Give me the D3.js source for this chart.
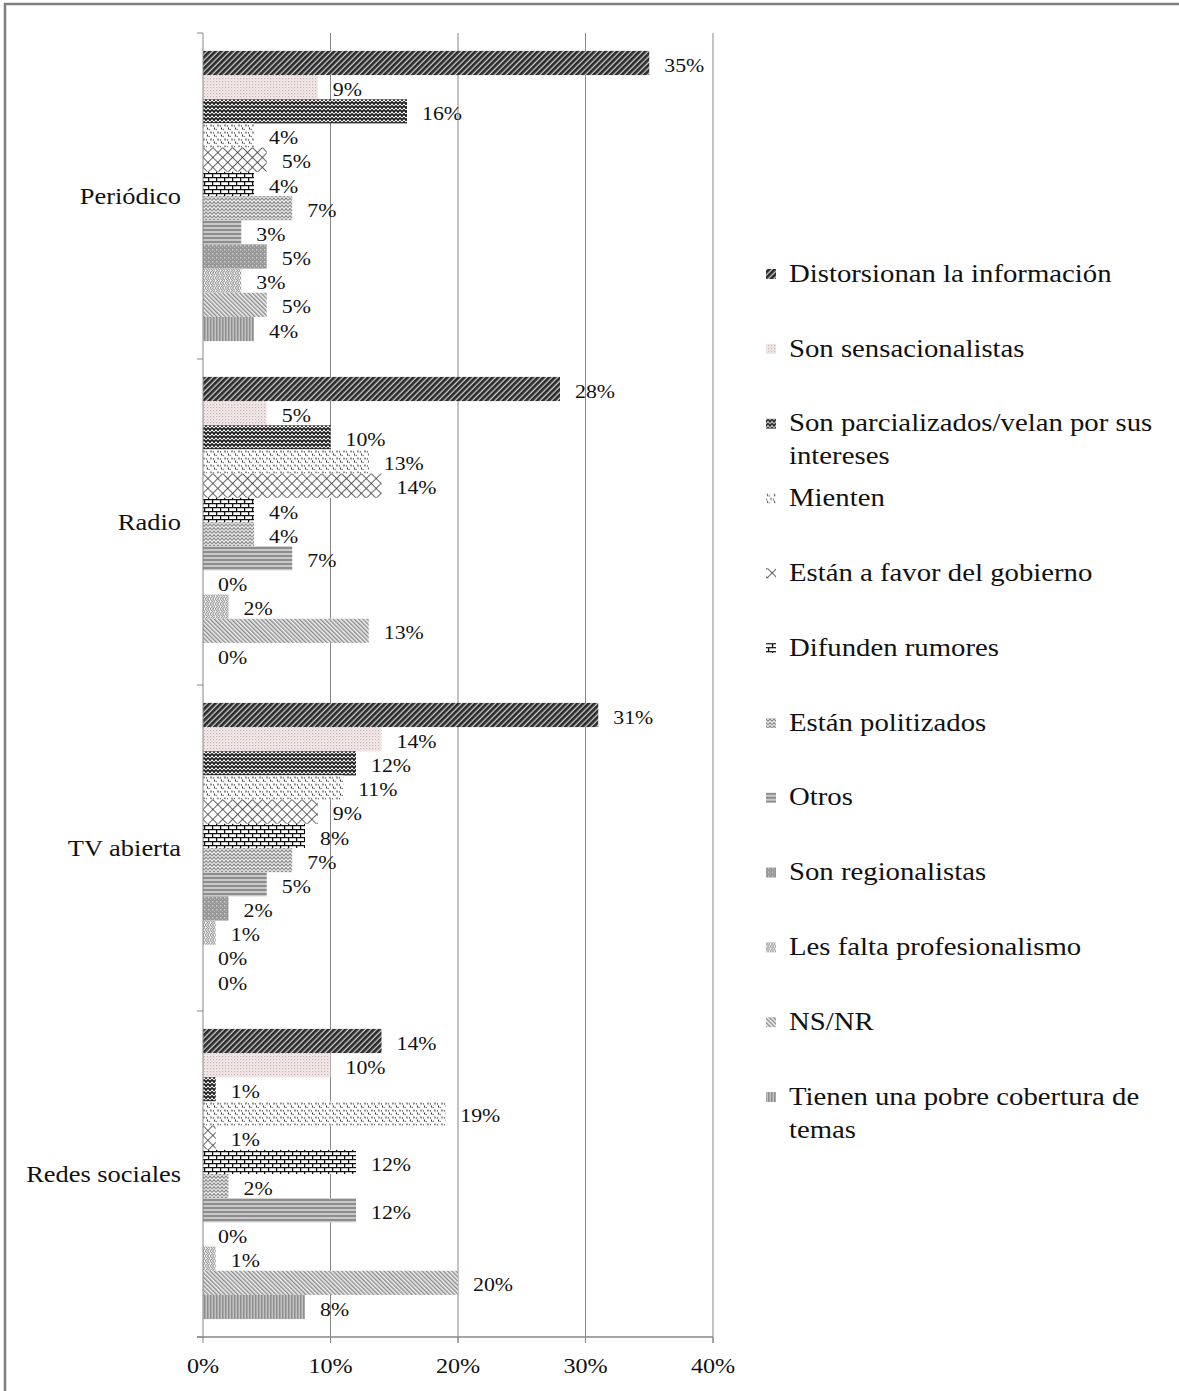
<!DOCTYPE html>
<html>
<head>
<meta charset="utf-8">
<script src="https://cdn.jsdelivr.net/npm/d3@7"></script>
<style>
  body { margin: 0; background: #fff; }
  text { font-family: "Liberation Serif", "Times New Roman", serif; fill: #111; }
</style>
</head>
<body>
<div id="chart"></div>
<script>
// data
const categories = ["Periódico", "Radio", "TV abierta", "Redes sociales"];
const series = [
  "Distorsionan la información",
  "Son sensacionalistas",
  "Son parcializados/velan por sus intereses",
  "Mienten",
  "Están a favor del gobierno",
  "Difunden rumores",
  "Están politizados",
  "Otros",
  "Son regionalistas",
  "Les falta profesionalismo",
  "NS/NR",
  "Tienen una pobre cobertura de temas"
];
const periodico = [35, 9, 16, 4, 5, 4, 7, 3, 5, 3, 5, 4];
const radio = [28, 5, 10, 13, 14, 4, 4, 7, 0, 2, 13, 0];
const tvAbierta = [31, 14, 12, 11, 9, 8, 7, 5, 2, 1, 0, 0];
const redesSociales = [14, 10, 1, 19, 1, 12, 2, 12, 0, 1, 20, 8];
const values = [periodico, radio, tvAbierta, redesSociales];
const xTicks = [0, 10, 20, 30, 40];

const W = 1179, H = 1391;
const SX = 1.15; // the source picture is stretched sideways

const svg = d3.select("#chart").append("svg")
  .attr("width", W).attr("height", H)
  .attr("viewBox", `0 0 ${W} ${H}`);

const defs = svg.append("defs");

// fill patterns, one per series (Excel-like hatches)
function pat(id, w, h, rot) {
  const p = defs.append("pattern").attr("id", id)
    .attr("patternUnits", "userSpaceOnUse")
    .attr("width", w).attr("height", h);
  if (rot) p.attr("patternTransform", `rotate(${rot})`);
  return p;
}
function bg(p, w, h, c) { p.append("rect").attr("width", w).attr("height", h).attr("fill", c); }

let p;
// 0 dark diagonal
p = pat("p0", 4, 4, 45); bg(p, 4, 4, "#cfcfcf");
p.append("rect").attr("width", 2.7).attr("height", 4).attr("fill", "#2a2a2a");
// 1 light pink stipple
p = pat("p1", 3, 3); bg(p, 3, 3, "#f8eaea");
p.append("rect").attr("x", 0).attr("y", 0).attr("width", 1.2).attr("height", 1.2).attr("fill", "#bdb5b5");
p.append("rect").attr("x", 1.5).attr("y", 1.5).attr("width", 1).attr("height", 1).attr("fill", "#d2caca");
// 2 dark zigzag weave
p = pat("p2", 4, 4); bg(p, 4, 4, "#fff");
p.append("path").attr("d", "M0,0.6 L2,3.2 L4,0.6").attr("fill", "none").attr("stroke", "#1e1e1e").attr("stroke-width", 1.8);
// 3 sparse marks
p = pat("p3", 7, 7); bg(p, 7, 7, "#fff");
p.append("path").attr("d", "M1,0.5 L1,2.4 M4.5,3.5 L4.5,5.4 M3,1.5 L3.8,2.3 M6.5,5 L5.8,5.8")
  .attr("stroke", "#3c3c3c").attr("stroke-width", 1.1);
// 4 diamond lattice
p = pat("p4", 7, 7, 45); bg(p, 7, 7, "#fff");
p.append("path").attr("d", "M0,0 H7 M0,0 V7").attr("stroke", "#333").attr("stroke-width", 1.5);
// 5 brick
p = pat("p5", 8, 8); bg(p, 8, 8, "#fff");
p.append("path").attr("d", "M0,0.6 H8 M0,4.6 H8 M0.6,0.6 V4.6 M4.6,4.6 V8.6")
  .attr("stroke", "#111").attr("stroke-width", 1.3).attr("fill", "none");
// 6 light zigzag
p = pat("p6", 4, 3.5); bg(p, 4, 3.5, "#eeeeee");
p.append("path").attr("d", "M0,3 L2,0.6 L4,3").attr("fill", "none").attr("stroke", "#7c7c7c").attr("stroke-width", 1.1);
// 7 horizontal stripes
p = pat("p7", 4, 4); bg(p, 4, 4, "#c9c9c9");
p.append("rect").attr("width", 4).attr("height", 2).attr("fill", "#8d8d8d");
// 8 gray with light dots
p = pat("p8", 4, 4); bg(p, 4, 4, "#979797");
p.append("rect").attr("width", 1.4).attr("height", 1.4).attr("fill", "#d0d0d0");
p.append("rect").attr("x", 2).attr("y", 2).attr("width", 1).attr("height", 1).attr("fill", "#bdbdbd");
// 9 light herringbone
p = pat("p9", 5, 5); bg(p, 5, 5, "#fafafa");
p.append("path").attr("d", "M0,0 L2.5,2.5 L0,5 M2.5,0 L5,2.5 L2.5,5").attr("fill", "none").attr("stroke", "#999").attr("stroke-width", 1.1);
// 10 light diagonal
p = pat("p10", 3, 3, -45); bg(p, 3, 3, "#f0f0f0");
p.append("rect").attr("width", 1.4).attr("height", 3).attr("fill", "#8a8a8a");
// 11 vertical stripes
p = pat("p11", 3, 3); bg(p, 3, 3, "#c2c2c2");
p.append("rect").attr("width", 1.5).attr("height", 3).attr("fill", "#8f8f8f");

const fillOf = (i) => `url(#p${i})`;

// outer frame
svg.append("rect").attr("x", 5).attr("y", 4).attr("width", 1300).attr("height", 1500)
  .attr("fill", "none").attr("stroke", "#7f7f7f").attr("stroke-width", 2.5);

// scales
const x = d3.scaleLinear().domain([0, 40]).range([203, 713]);
const y0 = d3.scaleBand().domain(categories).range([33, 1337]);
const y1 = d3.scaleBand().domain(series).range([0, y0.bandwidth()])
  .paddingInner(0).paddingOuter(0.74);

const axisColor = "#878787";

// vertical gridlines
svg.append("g")
  .selectAll("line")
  .data(xTicks.slice(1))
  .join("line")
  .attr("x1", (d) => x(d)).attr("x2", (d) => x(d))
  .attr("y1", 33).attr("y2", 1343)
  .attr("stroke", axisColor).attr("stroke-width", 1);

// bars
const groups = svg.append("g")
  .selectAll("g")
  .data(categories)
  .join("g")
  .attr("transform", (c) => `translate(0,${y0(c)})`);

groups.selectAll("rect")
  .data((c, ci) => values[ci].map((v, si) => ({ v, si })))
  .join("rect")
  .attr("x", x(0))
  .attr("y", (d) => y1(series[d.si]))
  .attr("width", (d) => x(d.v) - x(0))
  .attr("height", y1.bandwidth())
  .attr("fill", (d) => fillOf(d.si));

groups.selectAll("text")
  .data((c, ci) => values[ci].map((v, si) => ({ v, si })))
  .join("text")
  .attr("transform", (d) =>
    `translate(${x(d.v) + 15},${y1(series[d.si]) + y1.bandwidth() / 2 + 2}) scale(${SX},1)`)
  .attr("dy", "0.35em")
  .style("font-size", "19px")
  .text((d) => d.v + "%");

// y axis line and boundary ticks
svg.append("line").attr("x1", x(0)).attr("x2", x(0)).attr("y1", 33).attr("y2", 1337)
  .attr("stroke", axisColor);
const bounds = categories.map((c) => y0(c)).concat([1337]);
svg.append("g").selectAll("line").data(bounds).join("line")
  .attr("x1", x(0) - 6).attr("x2", x(0))
  .attr("y1", (d) => d).attr("y2", (d) => d)
  .attr("stroke", axisColor);

// x axis
svg.append("line").attr("x1", x(0) - 6).attr("x2", x(40)).attr("y1", 1337).attr("y2", 1337)
  .attr("stroke", axisColor).attr("stroke-width", 1.5);
svg.append("g").selectAll("line").data(xTicks).join("line")
  .attr("x1", (d) => x(d)).attr("x2", (d) => x(d))
  .attr("y1", 1337).attr("y2", 1343)
  .attr("stroke", axisColor);
svg.append("g").selectAll("text").data(xTicks).join("text")
  .attr("transform", (d) => `translate(${x(d)},1366) scale(${SX},1)`)
  .attr("dy", "0.35em")
  .attr("text-anchor", "middle")
  .style("font-size", "21px")
  .text((d) => d + "%");

// category labels
svg.append("g").selectAll("text").data(categories).join("text")
  .attr("transform", (c) => `translate(181,${y0(c) + y0.bandwidth() / 2}) scale(${SX},1)`)
  .attr("dy", "0.35em")
  .attr("text-anchor", "end")
  .style("font-size", "23px")
  .text((c) => c);

// legend
const ly = d3.scalePoint().domain(series).range([273, 1096]);
const legend = svg.append("g");
series.forEach((s, i) => {
  const row = legend.append("g").attr("transform", `translate(0,${ly(s)})`);
  row.append("rect")
    .attr("x", 766).attr("y", -4).attr("width", 10).attr("height", 10)
    .attr("fill", fillOf(i));
  const t = row.append("text")
    .attr("transform", `translate(789,0) scale(${SX},1)`)
    .style("font-size", "25px");
  // wrap long labels
  const words = s.split(" ");
  let line = [];
  let tspan = t.append("tspan").attr("x", 0).attr("dy", "0.35em");
  words.forEach((w) => {
    line.push(w);
    tspan.text(line.join(" "));
    if (tspan.node().getComputedTextLength() * SX > 378 && line.length > 1) {
      line.pop();
      tspan.text(line.join(" "));
      line = [w];
      tspan = t.append("tspan").attr("x", 0).attr("dy", 33).text(w);
    }
  });
});
</script>
</body>
</html>
